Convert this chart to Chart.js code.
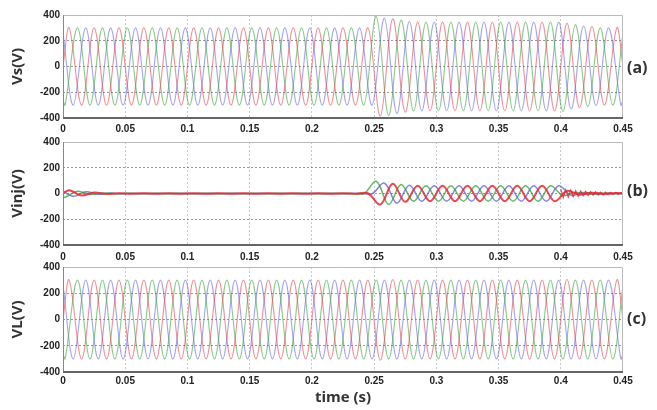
<!DOCTYPE html>
<html>
<head>
<meta charset="utf-8">
<script src="https://cdn.jsdelivr.net/npm/chart.js@4.4.0/dist/chart.umd.min.js"></script>
<style>
  body { margin: 0; background: #fff; }
  #wrap { position: relative; width: 657px; height: 410px; overflow: hidden; background: #fff; }
  canvas { position: absolute; left: 0; }
  .lbl { position: absolute; left: 627px; font: bold 16px 'Open Sans', sans-serif; line-height: 20px; color: #333; }
</style>
</head>
<body>
<div id="wrap">
  <canvas id="cA" width="657" height="140" style="top:0"></canvas>
  <canvas id="cB" width="657" height="140" style="top:130px"></canvas>
  <canvas id="cC" width="657" height="155" style="top:255px"></canvas>
  <div class="lbl" style="top:57px">(a)</div>
  <div class="lbl" style="top:180px">(b)</div>
  <div class="lbl" style="top:308px">(c)</div>
</div>
<script>
// peak times of each phase (s): start, one per half cycle, end
const tA = [0, 0.005, 0.015, 0.025, 0.035, 0.045, 0.055, 0.065, 0.075, 0.085, 0.095,
  0.105, 0.115, 0.125, 0.135, 0.145, 0.155, 0.165, 0.175, 0.185, 0.195,
  0.205, 0.215, 0.225, 0.235, 0.245, 0.255, 0.265, 0.275, 0.285, 0.295,
  0.305, 0.315, 0.325, 0.335, 0.345, 0.355, 0.365, 0.375, 0.385, 0.395,
  0.405, 0.415, 0.425, 0.435, 0.445, 0.45];
const tB = [0, 0.0017, 0.0117, 0.0217, 0.0317, 0.0417, 0.0517, 0.0617, 0.0717, 0.0817, 0.0917,
  0.1017, 0.1117, 0.1217, 0.1317, 0.1417, 0.1517, 0.1617, 0.1717, 0.1817, 0.1917,
  0.2017, 0.2117, 0.2217, 0.2317, 0.2417, 0.2517, 0.2617, 0.2717, 0.2817, 0.2917,
  0.3017, 0.3117, 0.3217, 0.3317, 0.3417, 0.3517, 0.3617, 0.3717, 0.3817, 0.3917,
  0.4017, 0.4117, 0.4217, 0.4317, 0.4417, 0.45];
const tC = [0, 0.0083, 0.0183, 0.0283, 0.0383, 0.0483, 0.0583, 0.0683, 0.0783, 0.0883, 0.0983,
  0.1083, 0.1183, 0.1283, 0.1383, 0.1483, 0.1583, 0.1683, 0.1783, 0.1883, 0.1983,
  0.2083, 0.2183, 0.2283, 0.2383, 0.2483, 0.2583, 0.2683, 0.2783, 0.2883, 0.2983,
  0.3083, 0.3183, 0.3283, 0.3383, 0.3483, 0.3583, 0.3683, 0.3783, 0.3883, 0.3983,
  0.4083, 0.4183, 0.4283, 0.4383, 0.4483, 0.45];

// (a) source voltage Vs (V)
const vsA = [0, 300, -300, 300, -300, 300, -300, 300, -300, 300, -300,
  300, -300, 300, -300, 300, -300, 300, -300, 300, -300,
  300, -300, 300, -300, 300, -385, 370, -355, 345, -345,
  345, -345, 345, -345, 345, -345, 345, -345, 345, -345,
  335, -320, 310, -300, 300, 0];
const vsB = [-260, -300, 300, -300, 300, -300, 300, -300, 300, -300, 300,
  -300, 300, -300, 300, -300, 300, -300, 300, -300, 300,
  -300, 300, -300, 300, -300, 390, -380, 360, -345, 345,
  -345, 345, -345, 345, -345, 345, -345, 345, -345, 345,
  -350, 325, -310, 300, -300, 260];
const vsC = [260, -300, 300, -300, 300, -300, 300, -300, 300, -300, 300,
  -300, 300, -300, 300, -300, 300, -300, 300, -300, 300,
  -300, 300, -300, 300, -300, 375, -365, 350, -345, 345,
  -345, 345, -345, 345, -345, 345, -345, 345, -345, 345,
  -330, 315, -305, 300, -300, -260];

// (b) injected voltage Vinj (V)
const vinjA = [0, 25, -15, 8, -4, 2, -2, 2, -2, 2, -2,
  2, -2, 2, -2, 2, -2, 2, -2, 2, -2,
  2, -2, 2, -2, 2, -85, 75, -65, 60, -60,
  60, -60, 60, -60, 60, -60, 60, -60, 60, -60,
  20, -10, 6, -4, 3, 0];
const vinjB = [-20, -30, 18, -8, 4, -2, 2, -2, 2, -2, 2,
  -2, 2, -2, 2, -2, 2, -2, 2, -2, 2,
  -2, 2, -2, 2, -2, 95, -85, 70, -60, 60,
  -60, 60, -60, 60, -60, 60, -60, 60, -60, 60,
  -15, 8, -5, 3, -2, 2];
const vinjC = [18, -22, 14, -6, 3, -2, 2, -2, 2, -2, 2,
  -2, 2, -2, 2, -2, 2, -2, 2, -2, 2,
  -2, 2, -2, 2, -2, 80, -75, 65, -60, 60,
  -60, 60, -60, 60, -60, 60, -60, 60, -60, 60,
  -14, 8, -5, 3, -2, -2];
// red ripple after compensation ends
const tRip = [0.400, 0.402, 0.404, 0.406, 0.408, 0.410, 0.412, 0.414, 0.416, 0.418,
  0.420, 0.422, 0.424, 0.426, 0.428, 0.430, 0.432, 0.434, 0.436, 0.438,
  0.440, 0.442, 0.444, 0.446, 0.448, 0.450];
const vRip = [35, -32, 30, -28, 26, -24, 22, -21, 20, -18,
  17, -16, 15, -14, 13, -12, 11, -10, 10, -9,
  9, -8, 8, -7, 7, -6];

// (c) load voltage VL (V)
const vlA = [0, 300, -300, 300, -300, 300, -300, 300, -300, 300, -300,
  300, -300, 300, -300, 300, -300, 300, -300, 300, -300,
  300, -300, 300, -300, 300, -310, 305, -300, 300, -300,
  300, -300, 300, -300, 300, -300, 300, -300, 300, -300,
  305, -300, 300, -300, 300, 0];
const vlB = [-260, -300, 300, -300, 300, -300, 300, -300, 300, -300, 300,
  -300, 300, -300, 300, -300, 300, -300, 300, -300, 300,
  -300, 300, -300, 300, -300, 300, -300, 300, -300, 300,
  -300, 300, -300, 300, -300, 300, -300, 300, -300, 300,
  -300, 300, -300, 300, -300, 260];
const vlC = [260, -300, 300, -300, 300, -300, 300, -300, 300, -300, 300,
  -300, 300, -300, 300, -300, 300, -300, 300, -300, 300,
  -300, 300, -300, 300, -300, 300, -300, 300, -300, 300,
  -300, 300, -300, 300, -300, 300, -300, 300, -300, 300,
  -300, 300, -300, 300, -300, -260];

const RED = 'rgba(225,70,85,0.6)';
const GREEN = 'rgba(60,165,60,0.6)';
const BLUE = 'rgba(90,90,220,0.55)';
const tickFont = { family: 'Liberation Sans', size: 10, weight: 'bold' };
const titleFont = { family: 'Open Sans', size: 15, weight: 'bold' };

function pts(ts, vs) {
  return ts.map((t, i) => ({ x: t, y: vs[i] }));
}

function serie(ts, vs, cor, w, tension) {
  return { data: pts(ts, vs), borderColor: cor, borderWidth: w, tension: tension, pointRadius: 0 };
}

// frame round the plot area
const caixa = {
  id: 'caixa',
  afterDraw(chart) {
    const { ctx, chartArea: a } = chart;
    ctx.save();
    ctx.lineWidth = 1;
    ctx.strokeStyle = '#bbb';
    ctx.beginPath();
    ctx.moveTo(a.left, a.top + 0.5);
    ctx.lineTo(a.right - 0.5, a.top + 0.5);
    ctx.lineTo(a.right - 0.5, a.bottom);
    ctx.stroke();
    ctx.strokeStyle = '#888';
    ctx.beginPath();
    ctx.moveTo(a.left + 0.5, a.top);
    ctx.lineTo(a.left + 0.5, a.bottom);
    ctx.stroke();
    ctx.strokeStyle = '#666';
    ctx.lineWidth = 2;
    ctx.beginPath();
    ctx.moveTo(a.left, a.bottom);
    ctx.lineTo(a.right, a.bottom);
    ctx.stroke();
    ctx.restore();
  }
};

function gerarPainel(id, series, cfg) {
  new Chart(document.getElementById(id), {
    type: 'line',
    data: { datasets: series },
    options: {
      responsive: false,
      animation: false,
      layout: { padding: { top: cfg.top, right: 34, left: 0, bottom: 0 } },
      plugins: { legend: { display: false }, tooltip: { enabled: false } },
      scales: {
        x: {
          type: 'linear', min: 0, max: 0.45,
          afterFit: s => { s.height = cfg.xh; },
          ticks: {
            stepSize: 0.05, padding: cfg.tp, font: tickFont, color: '#222',
            maxRotation: 0, autoSkip: false,
            callback: v => String(+v.toFixed(2))
          },
          grid: {
            drawTicks: false,
            color: c => (c.tick && (c.tick.value <= 0.0001 || c.tick.value >= 0.4499)) ? 'rgba(0,0,0,0)' : '#c8c8c8'
          },
          border: { display: false, dash: [2, 2] },
          title: cfg.xtitle ? {
            display: true, text: cfg.xtitle, font: titleFont, color: '#333',
            padding: { top: 0, bottom: 3 }
          } : { display: false }
        },
        y: {
          min: -400, max: 400,
          afterFit: s => { s.width = 63; },
          ticks: { stepSize: 200, padding: 3, font: tickFont, color: '#222', callback: v => String(v) },
          grid: {
            drawTicks: false, z: 1,
            color: c => (c.tick && Math.abs(c.tick.value) === 400) ? 'rgba(0,0,0,0)' : 'rgba(110,110,110,0.7)'
          },
          border: { display: false, dash: [2, 2] },
          title: { display: true, text: cfg.ytitle, font: titleFont, color: '#333', padding: { top: 9, bottom: 0 } }
        }
      }
    },
    plugins: [caixa]
  });
}

gerarPainel('cA', [
  serie(tA, vsA, RED, 1.1, 0.36),
  serie(tB, vsB, GREEN, 1.1, 0.36),
  serie(tC, vsC, BLUE, 1.1, 0.36)
], { top: 15, xh: 22, tp: 5, ytitle: 'Vs(V)' });

gerarPainel('cB', [
  serie(tRip, vRip, 'rgba(230,40,50,0.85)', 1.2, 0),
  serie(tA, vinjA, 'rgba(230,40,50,0.85)', 2, 0.36),
  serie(tB, vinjB, 'rgba(50,160,50,0.75)', 1.5, 0.36),
  serie(tC, vinjC, 'rgba(80,80,215,0.7)', 1.5, 0.36)
], { top: 12, xh: 25, tp: 6, ytitle: 'Vinj(V)' });

gerarPainel('cC', [
  serie(tA, vlA, RED, 1.1, 0.36),
  serie(tB, vlB, GREEN, 1.1, 0.36),
  serie(tC, vlC, BLUE, 1.1, 0.36)
], { top: 12, xh: 38, tp: 3, ytitle: 'VL(V)', xtitle: 'time (s)' });
</script>
</body>
</html>
